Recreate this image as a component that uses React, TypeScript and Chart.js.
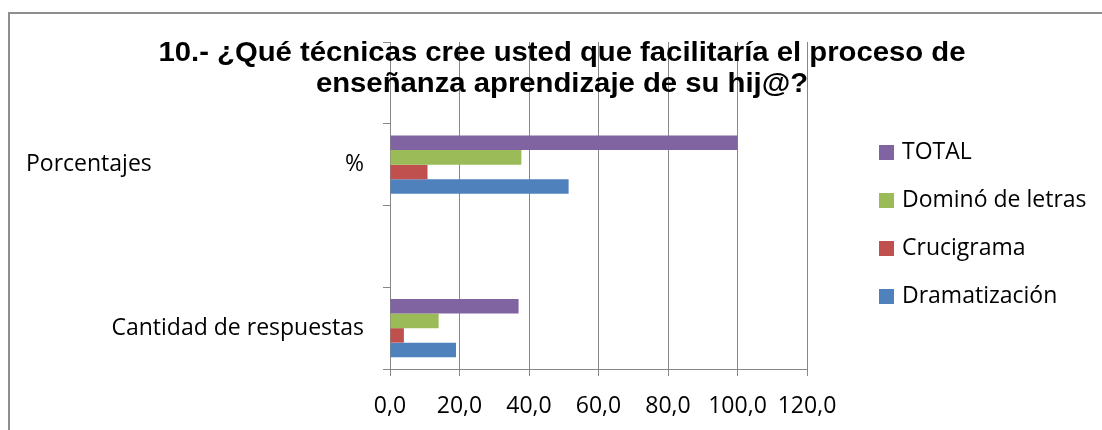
import React, { useEffect, useRef } from "react";
import { Chart, registerables } from "chart.js";

Chart.register(...registerables);

// Categories from top to bottom ("\t" separates a left-aligned part from a right-aligned part)
const categories = ["", "Porcentajes\t%", "", "Cantidad de respuestas"];

const seriesNames = ["TOTAL", "Dominó de letras", "Crucigrama", "Dramatización"];
const totalValues = [null, 100, null, 37];
const dominoValues = [null, 37.8, null, 14];
const crucigramaValues = [null, 10.8, null, 4];
const dramatizacionValues = [null, 51.4, null, 19];
const seriesColors = ["#8064A2", "#9BBB59", "#C0504D", "#4F81BD"];

const xTicks = [0, 20, 40, 60, 80, 100, 120];

const titleLines = [
  "10.- ¿Qué técnicas cree usted que facilitaría el proceso de",
  "enseñanza aprendizaje de su hij@?",
];

const FONT = "'Open Sans', 'Noto Sans', sans-serif";
const FONT_SIZE = 23;

const decorPlugin = {
  id: "decor",
  beforeDraw(chart: any) {
    const ctx = chart.ctx;
    ctx.save();
    ctx.fillStyle = "#ffffff";
    ctx.fillRect(0, 0, chart.width, chart.height);
    ctx.strokeStyle = "#8e8e8e";
    ctx.lineWidth = 2;
    ctx.strokeRect(9, 13, chart.width + 40, chart.height + 40);
    ctx.restore();
  },
  beforeDatasetsDraw(chart: any) {
    const ctx = chart.ctx;
    ctx.save();
    ctx.fillStyle = "#000000";
    ctx.font = "bold 28px 'Liberation Sans', Arial, sans-serif";
    ctx.textAlign = "center";
    ctx.textBaseline = "alphabetic";
    const w1 = ctx.measureText(titleLines[0]).width;
    const s = 807 / w1;
    ctx.translate(562, 0);
    ctx.scale(s, 1);
    ctx.fillText(titleLines[0], 0, 61);
    ctx.fillText(titleLines[1], 0, 92);
    ctx.restore();
  },
  afterDraw(chart: any) {
    const ctx = chart.ctx;
    const yScale = chart.scales.y;
    ctx.save();
    ctx.font = `${FONT_SIZE}px ${FONT}`;
    ctx.fillStyle = "#000000";
    ctx.textBaseline = "middle";
    // left-aligned parts of category labels
    categories.forEach((c, i) => {
      const parts = c.split("\t");
      if (parts.length > 1) {
        ctx.textAlign = "left";
        ctx.fillText(parts[0], 26, yScale.getPixelForValue(i));
      }
    });
    // legend
    const datasets = chart.data.datasets;
    datasets.forEach((ds: any, i: number) => {
      const cy = 152.5 + i * 48;
      ctx.fillStyle = ds.backgroundColor;
      ctx.fillRect(879, cy - 7.5, 15, 15);
      ctx.fillStyle = "#000000";
      ctx.textAlign = "left";
      ctx.fillText(ds.label, 902, cy);
    });
    ctx.restore();
  },
};

export default function App() {
  const ref = useRef<HTMLCanvasElement | null>(null);

  useEffect(() => {
    if (!ref.current) return;
    const valuesList = [totalValues, dominoValues, crucigramaValues, dramatizacionValues];
    const chart = new Chart(ref.current, {
      type: "bar",
      data: {
        labels: categories,
        datasets: seriesNames.map((name, i) => ({
          label: name,
          data: valuesList[i] as any,
          backgroundColor: seriesColors[i],
          borderWidth: 0,
          categoryPercentage: 0.71,
          barPercentage: 1,
        })),
      },
      options: {
        indexAxis: "y",
        responsive: false,
        animation: false,
        devicePixelRatio: 1,
        layout: { padding: { top: 42, right: 295, left: 0, bottom: 0 } },
        plugins: {
          legend: { display: false },
          title: { display: false },
          tooltip: { enabled: false },
        },
        scales: {
          x: {
            min: xTicks[0],
            max: xTicks[xTicks.length - 1],
            ticks: {
              stepSize: xTicks[1] - xTicks[0],
              color: "#000000",
              font: { family: FONT, size: FONT_SIZE },
              padding: 17,
              maxRotation: 0,
              callback: (v: any) => Number(v).toFixed(1).replace(".", ","),
            },
            grid: {
              color: "#878787",
              lineWidth: 1,
              drawTicks: true,
              tickLength: 7,
            },
            border: { color: "#878787", width: 1 },
            afterFit: (s: any) => {
              s.height = 61;
            },
          },
          y: {
            ticks: {
              color: "#000000",
              font: { family: FONT, size: FONT_SIZE },
              padding: 19,
              callback: function (this: any, v: any) {
                const label = categories[v as number] || "";
                const parts = label.split("\t");
                return parts[parts.length - 1];
              },
            },
            grid: {
              drawOnChartArea: false,
              drawTicks: true,
              tickLength: 7,
              color: "#878787",
              offset: true,
            },
            border: { color: "#878787", width: 1 },
            afterFit: (s: any) => {
              s.width = 390;
            },
          },
        },
      },
      plugins: [decorPlugin],
    });
    return () => chart.destroy();
  }, []);

  return (
    <div style={{ position: "fixed", left: 0, top: 0, width: 1102, height: 430 }}>
      <canvas ref={ref} width={1102} height={430} style={{ display: "block", width: 1102, height: 430 }} />
    </div>
  );
}
